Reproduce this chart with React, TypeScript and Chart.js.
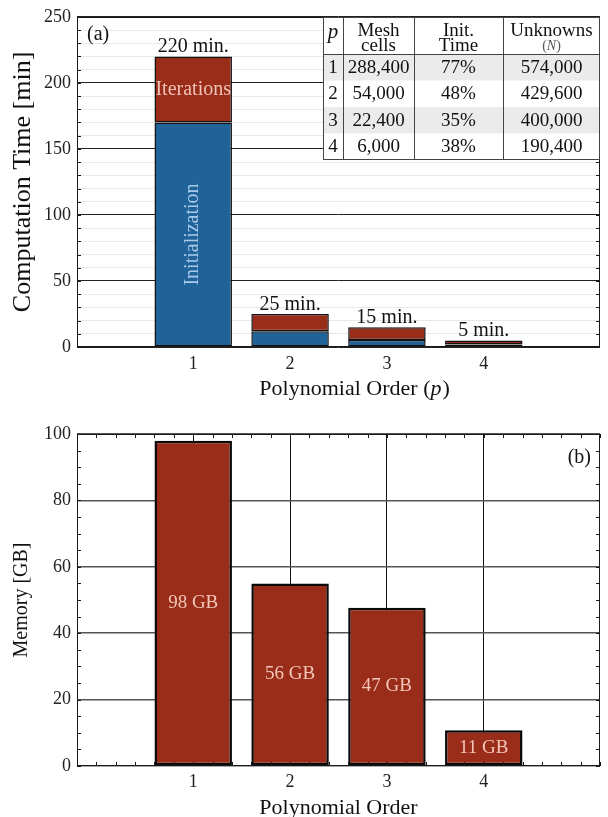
import React, { useEffect, useRef } from 'react';
import { Chart, registerables } from 'chart.js';

Chart.register(...registerables);

const SERIF = '"Liberation Serif", "DejaVu Serif", serif';

// ---------------- data ----------------
const orders = [1, 2, 3, 4];
const initTime = [170, 12, 5.25, 1.9];
const iterTime = [50, 13, 9.75, 3.1];
const totalTimeLabels = ['220 min.', '25 min.', '15 min.', '5 min.'];
const memoryGB = [98, 55, 47.7, 10.8];
const memoryLabels = ['98 GB', '56 GB', '47 GB', '11 GB'];
const timeMajorTicks = [0, 50, 100, 150, 200, 250];
const memoryMajorTicks = [0, 20, 40, 60, 80, 100];
const tableHeadTop = ['p', 'Mesh', 'Init.', 'Unknowns'];
const tableHeadBottom = ['', 'cells', 'Time', '(N)'];
const tableP = ['1', '2', '3', '4'];
const tableCells = ['288,400', '54,000', '22,400', '6,000'];
const tableInit = ['77%', '48%', '35%', '38%'];
const tableUnknowns = ['574,000', '429,600', '400,000', '190,400'];

const BLUE = '#1f6399';
const RED = '#9a2c1a';

function px(v: number) {
  return Math.round(v) + 0.5;
}

function drawFrame(ctx: any, a: any) {
  ctx.strokeStyle = '#1a1a1a';
  ctx.lineWidth = 1;
  ctx.strokeRect(Math.round(a.left) + 0.5, Math.round(a.top) + 0.5, Math.round(a.right) - Math.round(a.left) - 1, Math.round(a.bottom) - Math.round(a.top) - 1);
}

function drawYMinor(ctx: any, a: any, y: any, step: number, len: number) {
  ctx.strokeStyle = '#1a1a1a';
  ctx.lineWidth = 1;
  ctx.beginPath();
  for (let v = y.min; v <= y.max + 1e-9; v += step) {
    const py = px(y.getPixelForValue(v));
    ctx.moveTo(a.left, py);
    ctx.lineTo(a.left + len, py);
    ctx.moveTo(a.right, py);
    ctx.lineTo(a.right - len, py);
  }
  ctx.stroke();
}

function drawXMinor(ctx: any, a: any, x: any, step: number, len: number) {
  ctx.strokeStyle = '#1a1a1a';
  ctx.lineWidth = 1;
  ctx.beginPath();
  const n = Math.round((x.max - x.min) / step);
  for (let i = 0; i <= n; i++) {
    const v = x.min + i * step;
    const p = px(x.getPixelForValue(v));
    ctx.moveTo(p, a.bottom);
    ctx.lineTo(p, a.bottom - len);
    ctx.moveTo(p, a.top);
    ctx.lineTo(p, a.top + len);
  }
  ctx.stroke();
}

function drawTable(ctx: any, a: any) {
  const colW = [20, 71, 89, 97];
  const headH = 37;
  const rowH = 26.5;
  const tw = colW.reduce((s, w) => s + w, 0);
  const tx = Math.round(a.right) - tw;
  const ty = Math.round(a.top);
  const th = headH + rowH * tableP.length;
  ctx.fillStyle = '#ffffff';
  ctx.fillRect(tx, ty, tw, th);
  ctx.fillStyle = '#ebebeb';
  [0, 2].forEach((r) => {
    ctx.fillRect(tx, ty + headH + rowH * r, tw, rowH);
  });
  ctx.strokeStyle = '#444';
  ctx.lineWidth = 1;
  ctx.beginPath();
  let cx = tx;
  const colX: number[] = [];
  colW.forEach((w, i) => {
    colX.push(cx + w / 2);
    if (i > 0) {
      ctx.moveTo(px(cx), ty);
      ctx.lineTo(px(cx), ty + th);
    }
    cx += w;
  });
  ctx.moveTo(tx, px(ty + headH));
  ctx.lineTo(tx + tw, px(ty + headH));
  ctx.stroke();
  ctx.strokeRect(tx + 0.5, ty + 0.5, tw - 1, th - 1);

  ctx.fillStyle = '#111';
  ctx.textAlign = 'center';
  ctx.textBaseline = 'alphabetic';
  ctx.font = `italic 21px ${SERIF}`;
  ctx.fillText(tableHeadTop[0], colX[0], ty + 21);
  ctx.font = `19px ${SERIF}`;
  for (let i = 1; i < 4; i++) {
    ctx.fillText(tableHeadTop[i], colX[i], ty + 19);
  }
  ctx.fillText(tableHeadBottom[1], colX[1], ty + 34);
  ctx.fillText(tableHeadBottom[2], colX[2], ty + 34);
  {
    const s = tableHeadBottom[3];
    const open = s.slice(0, 1), mid = s.slice(1, s.length - 1), close = s.slice(s.length - 1);
    ctx.fillStyle = '#555';
    ctx.font = `14px ${SERIF}`;
    const wo = ctx.measureText(open).width;
    const wc = ctx.measureText(close).width;
    ctx.font = `italic 14px ${SERIF}`;
    const wm = ctx.measureText(mid).width;
    const sx = colX[3] - (wo + wm + wc) / 2;
    ctx.textAlign = 'left';
    ctx.font = `14px ${SERIF}`;
    ctx.fillText(open, sx, ty + 33);
    ctx.font = `italic 14px ${SERIF}`;
    ctx.fillText(mid, sx + wo, ty + 33);
    ctx.font = `14px ${SERIF}`;
    ctx.fillText(close, sx + wo + wm, ty + 33);
  }
  ctx.fillStyle = '#111';
  ctx.textAlign = 'center';
  ctx.textBaseline = 'middle';
  ctx.font = `19px ${SERIF}`;
  const cols = [tableP, tableCells, tableInit, tableUnknowns];
  tableP.forEach((_, r) => {
    const cy = ty + headH + rowH * (r + 0.5) + 0.5;
    cols.forEach((col, c) => ctx.fillText(col[r], colX[c], cy));
  });
}

const timePlugin = {
  id: 'timeDecor',
  afterDatasetsDraw(chart: any) {
    const { ctx, chartArea: a, scales } = chart;
    const y = scales.y;
    ctx.save();
    drawYMinor(ctx, a, y, 10, 4);
    drawFrame(ctx, a);
    drawTable(ctx, a);

    const m0 = chart.getDatasetMeta(0);
    const m1 = chart.getDatasetMeta(1);
    ctx.fillStyle = '#111';
    ctx.font = `20px ${SERIF}`;
    ctx.textAlign = 'center';
    ctx.textBaseline = 'alphabetic';
    m1.data.forEach((bar: any, i: number) => {
      ctx.fillText(totalTimeLabels[i], bar.x, bar.y - 4);
    });
    const b1 = m1.data[0];
    ctx.fillStyle = '#f0c3b6';
    ctx.textBaseline = 'middle';
    ctx.fillText(chart.data.datasets[1].label, b1.x, (b1.y + b1.base) / 2);
    const b0 = m0.data[0];
    ctx.save();
    ctx.translate(b0.x, (b0.y + b0.base) / 2);
    ctx.rotate(-Math.PI / 2);
    ctx.fillStyle = '#a8c9ea';
    ctx.fillText(chart.data.datasets[0].label, 0, 0);
    ctx.restore();

    ctx.fillStyle = '#111';
    ctx.textAlign = 'left';
    ctx.textBaseline = 'alphabetic';
    ctx.font = `20px ${SERIF}`;
    ctx.fillText('(a)', a.left + 10, a.top + 23);

    ctx.font = `26px ${SERIF}`;
    ctx.save();
    ctx.translate(23, (a.top + a.bottom) / 2);
    ctx.rotate(-Math.PI / 2);
    ctx.textAlign = 'center';
    ctx.textBaseline = 'middle';
    ctx.fillText('Computation Time [min]', 0, 0);
    ctx.restore();

    ctx.font = `22px ${SERIF}`;
    const base = 'Polynomial Order';
    const wBase = ctx.measureText(base).width;
    const cxm = (a.left + a.right) / 2;
    let sx = cxm - wBase / 2;
    ctx.textAlign = 'left';
    ctx.fillText(base + ' (', sx, 395);
    sx += ctx.measureText(base + ' (').width;
    ctx.font = `italic 22px ${SERIF}`;
    ctx.fillText('p', sx, 395);
    sx += ctx.measureText('p').width + 1;
    ctx.font = `22px ${SERIF}`;
    ctx.fillText(')', sx, 395);
    ctx.restore();
  },
};

const memoryPlugin = {
  id: 'memoryDecor',
  afterDatasetsDraw(chart: any) {
    const { ctx, chartArea: a, scales } = chart;
    ctx.save();
    drawYMinor(ctx, a, scales.y, 5, 4);
    drawXMinor(ctx, a, scales.x, 0.2, 4);
    drawFrame(ctx, a);

    const m0 = chart.getDatasetMeta(0);
    ctx.fillStyle = '#f3c6b8';
    ctx.font = `19px ${SERIF}`;
    ctx.textAlign = 'center';
    ctx.textBaseline = 'middle';
    m0.data.forEach((bar: any, i: number) => {
      ctx.fillText(memoryLabels[i], bar.x, (bar.y + bar.base) / 2);
    });

    ctx.fillStyle = '#111';
    ctx.font = `20px ${SERIF}`;
    ctx.textAlign = 'right';
    ctx.textBaseline = 'alphabetic';
    ctx.fillText('(b)', a.right - 9, a.top + 29);

    ctx.font = `20px ${SERIF}`;
    ctx.save();
    ctx.translate(22, (a.top + a.bottom) / 2);
    ctx.rotate(-Math.PI / 2);
    ctx.textAlign = 'center';
    ctx.textBaseline = 'middle';
    ctx.fillText('Memory [GB]', 0, 0);
    ctx.restore();

    ctx.font = `22px ${SERIF}`;
    ctx.textAlign = 'center';
    ctx.fillText('Polynomial Order', (a.left + a.right) / 2, 414);
    ctx.restore();
  },
};

function xAxis(showGrid: boolean, height: number, padding: number) {
  return {
    type: 'linear' as const,
    min: -0.2,
    max: 5.2,
    offset: false,
    afterBuildTicks: (s: any) => {
      s.ticks = orders.map((v) => ({ value: v }));
    },
    afterFit: (s: any) => {
      s.height = height;
    },
    grid: { display: showGrid, offset: false, color: '#111', lineWidth: 1, drawTicks: false },
    border: { display: false },
    ticks: {
      autoSkip: false,
      maxRotation: 0,
      padding,
      color: '#222',
      font: { family: SERIF, size: 18 },
      callback: (v: any) => String(v),
    },
  };
}

export default function App() {
  const topRef = useRef<HTMLCanvasElement>(null);
  const botRef = useRef<HTMLCanvasElement>(null);

  useEffect(() => {
    const c1 = new Chart(topRef.current as HTMLCanvasElement, {
      type: 'bar',
      data: {
        datasets: [
          {
            label: 'Initialization',
            data: orders.map((o, i) => ({ x: o, y: initTime[i] })),
            backgroundColor: BLUE,
            borderColor: '#111111',
            borderWidth: 1.5,
            borderSkipped: false,
            barPercentage: 0.8,
            categoryPercentage: 1,
          },
          {
            label: 'Iterations',
            data: orders.map((o, i) => ({ x: o, y: iterTime[i] })),
            backgroundColor: RED,
            borderColor: '#111111',
            borderWidth: 1.5,
            borderSkipped: false,
            barPercentage: 0.8,
            categoryPercentage: 1,
          },
        ],
      } as any,
      options: {
        responsive: false,
        animation: false,
        devicePixelRatio: 1,
        events: [],
        layout: { padding: { top: 16, right: 8, left: 0, bottom: 0 } },
        plugins: { legend: { display: false }, tooltip: { enabled: false } },
        scales: {
          x: { ...xAxis(false, 53, 6), stacked: true },
          y: {
            type: 'linear',
            stacked: true,
            min: 0,
            max: 250,
            afterFit: (s: any) => {
              s.width = 77;
            },
            border: { display: false },
            grid: {
              drawTicks: false,
              lineWidth: 1,
              color: (c: any) => (timeMajorTicks.includes(c.tick.value) ? '#222' : '#e8e8e8'),
            },
            ticks: {
              stepSize: 10,
              autoSkip: false,
              padding: 6,
              color: '#222',
              font: { family: SERIF, size: 18 },
              callback: (v: any) => (timeMajorTicks.includes(v) ? String(v) : ''),
            },
          },
        },
      } as any,
      plugins: [timePlugin],
    });

    const c2 = new Chart(botRef.current as HTMLCanvasElement, {
      type: 'bar',
      data: {
        datasets: [
          {
            label: 'Memory',
            data: orders.map((o, i) => ({ x: o, y: memoryGB[i] })),
            backgroundColor: RED,
            borderColor: '#0a0a0a',
            borderWidth: 2.5,
            borderSkipped: false,
            barPercentage: 0.8,
            categoryPercentage: 1,
          },
        ],
      } as any,
      options: {
        responsive: false,
        animation: false,
        devicePixelRatio: 1,
        events: [],
        layout: { padding: { top: 34, right: 8, left: 0, bottom: 0 } },
        plugins: { legend: { display: false }, tooltip: { enabled: false } },
        scales: {
          x: xAxis(true, 51, 5),
          y: {
            type: 'linear',
            min: 0,
            max: 100,
            afterFit: (s: any) => {
              s.width = 77;
            },
            border: { display: false },
            grid: {
              drawTicks: false,
              lineWidth: 1.5,
              color: (c: any) => (memoryMajorTicks.includes(c.tick.value) ? '#555' : 'rgba(0,0,0,0)'),
            },
            ticks: {
              stepSize: 5,
              autoSkip: false,
              padding: 6,
              color: '#222',
              font: { family: SERIF, size: 18 },
              callback: (v: any) => (memoryMajorTicks.includes(v) ? String(v) : ''),
            },
          },
        },
      } as any,
      plugins: [memoryPlugin],
    });

    return () => {
      c1.destroy();
      c2.destroy();
    };
  }, []);

  return (
    <div style={{ position: 'fixed', left: 0, top: 0, width: 608, height: 817, background: '#ffffff' }}>
      <canvas ref={topRef} width={608} height={400} style={{ position: 'absolute', left: 0, top: 0, width: 608, height: 400 }} />
      <canvas ref={botRef} width={608} height={417} style={{ position: 'absolute', left: 0, top: 400, width: 608, height: 417 }} />
    </div>
  );
}
